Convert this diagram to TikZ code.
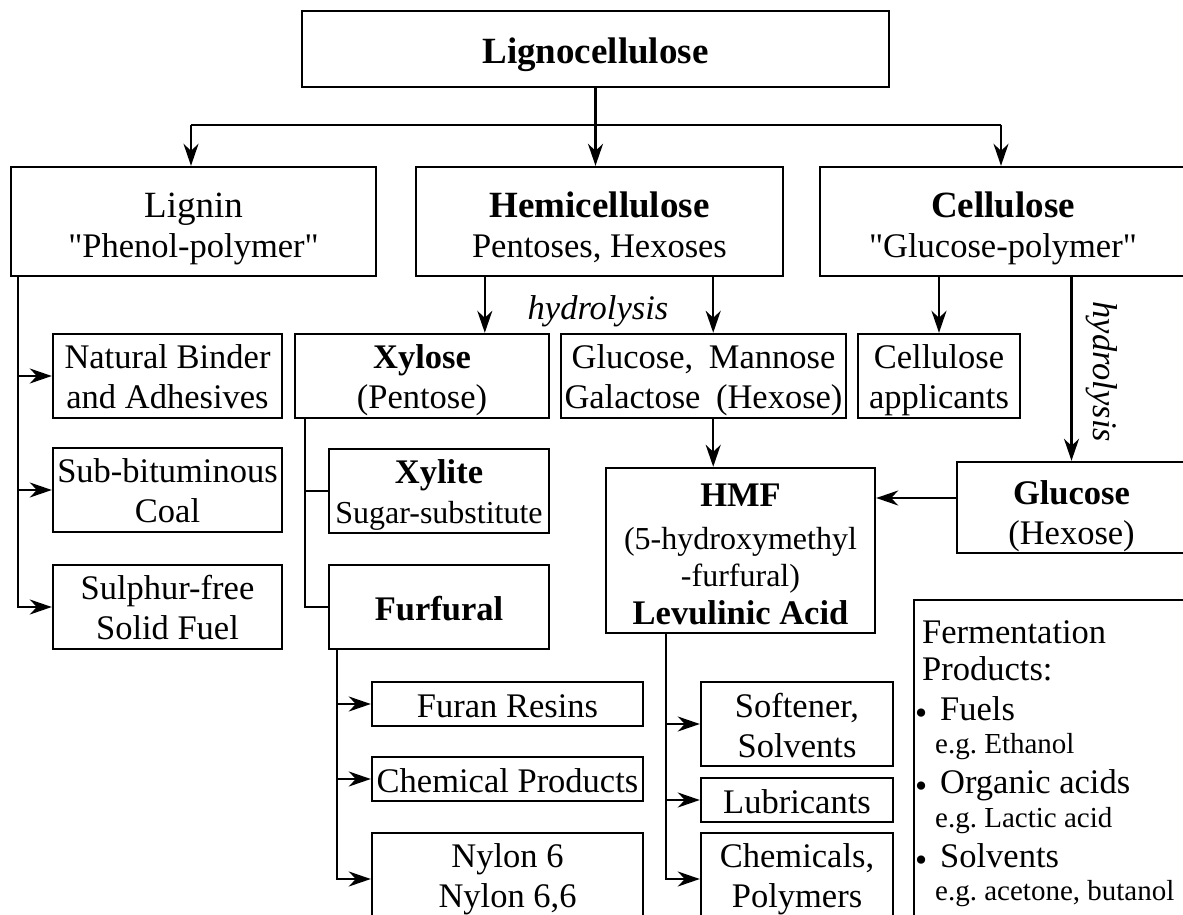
\documentclass[tikz,border=0pt]{standalone}
\usepackage{fontspec}
\setmainfont{Liberation Serif}
\usetikzlibrary{arrows.meta}
\newcommand\fnorm{\fontsize{34.5}{39.5}\selectfont}
\newcommand\fbig{\fontsize{37}{40}\selectfont}
\newcommand\fmid{\fontsize{32}{36}\selectfont}
\newcommand\fsml{\fontsize{29}{33}\selectfont}
\newcommand\bul{\makebox[25pt][l]{\raisebox{-4pt}{•}}}
\tikzset{
  box/.style={draw, line width=2.4pt, inner sep=0pt, align=center, font=\fnorm},
  con/.style={line width=2.2pt},
  arr/.style={con, -{Stealth[length=22pt,width=15pt,inset=7pt]}},
  ftext/.style={inner sep=0pt, anchor=base west, font=\fnorm},
  fsm/.style={inner sep=0pt, anchor=base west, font=\fsml},
}
\begin{document}
\begin{tikzpicture}[x=1pt,y=-1pt]
\useasboundingbox (0,0) rectangle (1183,915);
\clip (0,0) rectangle (1183,915);
% level 0
\node[box, minimum width=587pt, minimum height=76pt, text height=38pt, text depth=8pt] (ligno) at (595.5,49) {\fbig\bfseries Lignocellulose};
% level 1
\node[box, minimum width=365pt, minimum height=109pt, text height=79pt, text depth=8pt] (lignin) at (193.5,221.5) {{\fbig Lignin}\\\textquotedbl Phenol-polymer\textquotedbl};
\node[box, minimum width=367pt, minimum height=109pt, text height=79pt, text depth=8pt] (hemi) at (599.5,221.5) {{\fbig\bfseries Hemicellulose}\\Pentoses, Hexoses};
\node[box, minimum width=366pt, minimum height=109pt, text height=79pt, text depth=8pt] (cell) at (1003,221.5) {{\fbig\bfseries Cellulose}\\\textquotedbl Glucose-polymer\textquotedbl};
% lignin products
\node[box, minimum width=229pt, minimum height=84pt, text height=72pt, text depth=8pt] (nb) at (167.5,376) {Natural Binder\\and Adhesives};
\node[box, minimum width=229pt, minimum height=84pt, text height=72pt, text depth=8pt] (coal) at (167.5,490) {Sub-bituminous\\Coal};
\node[box, minimum width=229pt, minimum height=84pt, text height=72pt, text depth=8pt] (sulphur) at (167.5,607) {Sulphur-free\\Solid Fuel};
% level 2
\node[box, minimum width=254pt, minimum height=84pt, text height=72pt, text depth=8pt] (xylose) at (422,376) {{\bfseries Xylose}\\(Pentose)};
\node[box, minimum width=285pt, minimum height=84pt, text height=72pt, text depth=8pt] (gmg) at (703.5,376) {Glucose,\hspace{0.45em}Mannose\\Galactose\hspace{0.45em}(Hexose)};
\node[box, minimum width=162pt, minimum height=84pt, text height=72pt, text depth=8pt] (capp) at (939,376) {Cellulose\\applicants};
% xylose products
\node[box, minimum width=220pt, minimum height=84pt, text height=72pt, text depth=8pt] (xylite) at (439,491) {{\bfseries Xylite}\\{\fmid Sugar-substitute}};
\node[box, minimum width=220pt, minimum height=84pt, text height=34pt, text depth=8pt] (furfural) at (439,607) {\bfseries Furfural};
% HMF and glucose
\node[box, minimum width=269pt, minimum height=165pt, text height=155pt, text depth=8pt] (hmf) at (740.5,550.5) {{\bfseries HMF}\\[3.5pt]{\fmid (5-hydroxymethyl}\\[-2.5pt]{\fmid -furfural)}\\[-1.5pt]{\bfseries Levulinic Acid}};
\node[box, minimum width=229pt, minimum height=91pt, text height=73pt, text depth=0pt] (glucose) at (1071.5,507.5) {{\bfseries Glucose}\\(Hexose)};
% furfural products
\node[box, minimum width=271pt, minimum height=44pt, text height=33pt, text depth=7pt] (furan) at (507.5,704) {Furan Resins};
\node[box, minimum width=271pt, minimum height=44pt, text height=33pt, text depth=7pt] (chemprod) at (507.5,779) {Chemical Products};
\node[box, minimum width=271pt, minimum height=92pt, text height=64pt, text depth=8pt] (nylon) at (507.5,879) {Nylon 6\\Nylon 6,6};
% HMF products
\node[box, minimum width=192pt, minimum height=84pt, text height=74pt, text depth=8pt] (softener) at (797,724) {Softener,\\Solvents};
\node[box, minimum width=192pt, minimum height=44pt, text height=33pt, text depth=7pt] (lubricants) at (797,800) {Lubricants};
\node[box, minimum width=192pt, minimum height=92pt, text height=64pt, text depth=8pt] (chempoly) at (797,879) {Chemicals,\\Polymers};
% fermentation
\node[draw, line width=2.4pt, inner sep=0pt, anchor=north west, minimum width=290pt, minimum height=340pt] (ferm) at (913,599) {};
\node[ftext] (f1) at (922,643) {Fermentation};
\node[ftext] (f2) at (922,680) {Products:};
\node[ftext] (f3) at (915,720) {\bul Fuels};
\node[fsm] (f4) at (935,753) {e.g.\ Ethanol};
\node[ftext] (f5) at (915,793) {\bul Organic acids};
\node[fsm] (f6) at (935,827) {e.g.\ Lactic acid};
\node[ftext] (f7) at (915,867) {\bul Solvents};
\node[fsm] (f8) at (935,900) {e.g.\ acetone, butanol};
% labels
\node[inner sep=0pt, anchor=base, font=\fnorm\itshape] (hyd1) at (598,319) {hydrolysis};
\node[inner sep=0pt, rotate=-90, font=\fnorm\itshape] (hyd2) at (1102,372) {hydrolysis};
% connectors
\coordinate (jL) at (191,125);
\coordinate (jR) at (1001,125);
\draw[con] (jL) -- (jR);
\draw[arr] (ligno.south) -- (ligno.south |- hemi.north);
\draw[arr] (jL) -- (jL |- lignin.north);
\draw[arr] (jR) -- (jR |- cell.north);
\coordinate (lv) at ([xshift=8pt]lignin.south west);
\draw[arr] (lv) |- (nb.west);
\draw[arr] (lv) |- (coal.west);
\draw[arr] (lv) |- (sulphur.west);
\coordinate (hL) at ([xshift=70pt]hemi.south west);
\coordinate (hR) at ([xshift=-71pt]hemi.south east);
\draw[arr] (hL) -- (hL |- xylose.north);
\draw[arr] (hR) -- (hR |- gmg.north);
\draw[arr] (gmg.south -| hR) -- (hmf.north -| hR);
\draw[arr] (cell.south -| capp.north) -- (capp.north);
\draw[arr] (cell.south -| glucose.north) -- (glucose.north);
\coordinate (gw) at ([yshift=9.5pt]glucose.west);
\draw[arr] (gw) -- (gw -| hmf.east);
\coordinate (xv) at ([xshift=11pt]xylose.south west);
\draw[con] (xv) |- (xylite.west);
\draw[con] (xv) |- (furfural.west);
\coordinate (fv) at ([xshift=9pt]furfural.south west);
\draw[arr] (fv) |- (furan.west);
\draw[arr] (fv) |- (chemprod.west);
\draw[arr] (fv) |- (nylon.west);
\coordinate (hv) at ([xshift=61pt]hmf.south west);
\draw[arr] (hv) |- (softener.west);
\draw[arr] (hv) |- (lubricants.west);
\draw[arr] (hv) |- (chempoly.west);
\end{tikzpicture}
\end{document}
